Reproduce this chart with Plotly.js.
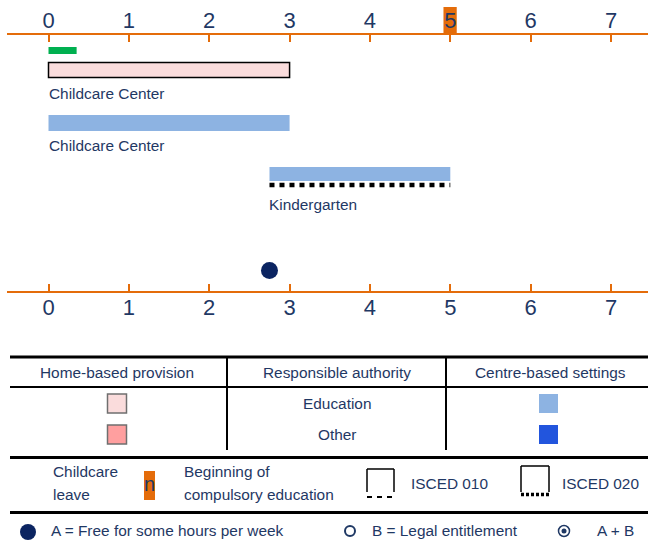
<!DOCTYPE html>
<html>
<head>
<meta charset="utf-8">
<script src="https://cdn.plot.ly/plotly-3.0.1.min.js"></script>
<style>html,body{margin:0;padding:0;background:#fff;}#chart{width:648px;height:546px;}</style>
</head>
<body>
<div id="chart"></div>
<script>
// ---- data ----
const ageTicks = [0, 1, 2, 3, 4, 5, 6, 7];
const ageTickLabels = ['0', '1', '2', '3', '4', '5', '6', '7'];
const barNames = ['Childcare leave', 'Childcare Center', 'Childcare Center', 'Kindergarten'];
const barLabels = ['', 'Childcare Center', 'Childcare Center', 'Kindergarten'];
const barStart = [0, 0, 0, 2.75];
const barEnd = [0.35, 3, 3, 5];
const iscedStart = [2.75];
const iscedEnd = [5];
const freeHoursAge = [2.75];
const compulsoryAge = 5;
const tableHeaders = ['Home-based provision', 'Responsible authority', 'Centre-based settings'];
const authorities = ['Education', 'Other'];

// ---- styles / layout helpers ----
const NAVY = '#1f3864';
const ORANGE = '#E46C0A';
const FONT = "'Liberation Sans', Arial, sans-serif";
const FS = 15.4;
const W = 648, H = 546;
const px = v => v / W;
const py = v => 1 - v / H;
const rowY = [50.5, 70, 123, 174];
const rowH = [7, 15, 16, 14];
const barFill = ['#00b050', '#fadcdc', '#8db3e2', '#8db3e2'];
const barLine = ['#00b050', '#000000', '#8db3e2', '#8db3e2'];
const barLineW = [0, 1.5, 0, 0];
const labelY = [0, 93.5, 145.5, 204.5];

const traces = [
  {
    type: 'bar', orientation: 'h',
    y: rowY, base: barStart,
    x: barEnd.map((e, i) => e - barStart[i]),
    width: rowH,
    marker: {color: barFill, line: {color: barLine, width: barLineW}},
    name: 'bars', hoverinfo: 'skip', showlegend: false
  },
  {
    type: 'scatter', mode: 'lines',
    x: [iscedStart[0], iscedEnd[0]], y: [185, 185],
    line: {color: '#000', width: 4.5, dash: '5px,5px'},
    hoverinfo: 'skip', showlegend: false
  },
  {
    type: 'scatter', mode: 'markers',
    x: freeHoursAge, y: freeHoursAge.map(() => 270.5),
    xaxis: 'x2',
    marker: {color: '#0b2461', size: 17},
    hoverinfo: 'skip', showlegend: false
  }
];

const axisStyle = {
  range: [(7 - 48.5) / 80.36, (648 - 48.5) / 80.36],
  tickvals: ageTicks, ticktext: ageTickLabels,
  showline: true, linecolor: ORANGE, linewidth: 2,
  ticks: 'inside', ticklen: 7, tickwidth: 2, tickcolor: ORANGE,
  tickfont: {family: FONT, size: 22, color: NAVY},
  ticklabelstandoff: -4,
  showgrid: false, zeroline: false, fixedrange: true
};

const shapes = [];
const annotations = [];

// compulsory-education highlight behind the top tick label
shapes.push({type: 'rect', xref: 'x', yref: 'paper', x0: compulsoryAge - 0.085, x1: compulsoryAge + 0.08,
  y0: py(33.5), y1: py(7), fillcolor: ORANGE, line: {width: 0}, layer: 'below'});

// bar labels
barLabels.forEach((t, i) => {
  if (!t) return;
  annotations.push({xref: 'x', yref: 'paper', x: barStart[i], y: py(labelY[i]), text: t,
    xanchor: 'left', yanchor: 'middle', showarrow: false, xshift: -1, borderpad: 0,
    font: {family: FONT, size: FS, color: NAVY}});
});

function line(x0, y0, x1, y1, w, dash, color) {
  shapes.push({type: 'line', xref: 'paper', yref: 'paper', x0: px(x0), y0: py(y0), x1: px(x1), y1: py(y1),
    line: {color: color || '#000', width: w, dash: dash || 'solid'}});
}
function rect(x0, y0, x1, y1, fill, lc, lw) {
  shapes.push({type: 'rect', xref: 'paper', yref: 'paper', x0: px(x0), y0: py(y0), x1: px(x1), y1: py(y1),
    fillcolor: fill, line: {color: lc || fill, width: lw || 0}});
}
function circ(cx, cy, r, fill, lc, lw) {
  shapes.push({type: 'circle', xref: 'paper', yref: 'paper', x0: px(cx - r), y0: py(cy - r), x1: px(cx + r), y1: py(cy + r),
    fillcolor: fill, line: {color: lc || fill, width: lw || 0}});
}
function txt(t, x, y, anchor, size) {
  annotations.push({xref: 'paper', yref: 'paper', x: px(x), y: py(y), text: t, xanchor: anchor || 'left',
    yanchor: 'middle', showarrow: false, borderpad: 0,
    font: {family: FONT, size: size || FS, color: NAVY}});
}

// table
line(10, 357, 648, 357, 3);
line(10, 387, 648, 387, 2);
line(227, 357, 227, 450, 2);
line(446, 357, 446, 450, 2);
line(10, 457.5, 648, 457.5, 3);
line(10, 512.5, 648, 512.5, 3);
txt(tableHeaders[0], 117, 372.5, 'center');
txt(tableHeaders[1], 337, 372.5, 'center');
txt(tableHeaders[2], 550, 372.5, 'center');
txt(authorities[0], 337, 403.5, 'center');
txt(authorities[1], 337, 434.5, 'center');
rect(107.5, 394, 126.5, 413, '#fadcdc', '#6f6f6f', 1.5);
rect(107.5, 425, 126.5, 444, '#ff9f9f', '#6f6f6f', 1.5);
rect(539, 394, 558, 413, '#8db3e2');
rect(539, 425, 558, 444, '#2255dd');

// key row
txt('Childcare', 52, 471.5);
txt('leave', 52, 494.5);
rect(144, 471, 155, 500, ORANGE);
txt('n', 149.5, 484, 'center', 20);
txt('Beginning of', 183, 471.5);
txt('compulsory education', 183, 494.5);
line(367, 469, 394, 469, 1.5);
line(367, 469, 367, 492, 1.5);
line(394, 469, 394, 492, 1.5);
line(367, 497, 394, 497, 2, '5px,5px');
txt('ISCED 010', 410, 483.5);
line(521, 466, 549, 466, 1.5);
line(521, 466, 521, 492, 1.5);
line(549, 466, 549, 492, 1.5);
line(521, 494.5, 549, 494.5, 3.5, '3px,2px');
txt('ISCED 020', 561, 483.5);

// bottom row
circ(28, 532, 8, '#0b2461');
txt('A = Free for some hours per week', 50, 530.5);
circ(350, 531, 5, 'rgba(0,0,0,0)', NAVY, 2);
txt('B = Legal entitlement', 371, 530.5);
circ(564, 531, 5.5, 'rgba(0,0,0,0)', NAVY, 1.5);
circ(564, 531, 2.5, NAVY);
txt('A + B', 596, 530.5);

const layout = {
  width: W, height: H,
  margin: {l: 0, r: 0, t: 0, b: 0, pad: 0},
  paper_bgcolor: '#ffffff', plot_bgcolor: 'rgba(0,0,0,0)',
  showlegend: false, barmode: 'overlay',
  xaxis: Object.assign({}, axisStyle, {domain: [7 / W, 1], side: 'top', anchor: 'y'}),
  xaxis2: Object.assign({}, axisStyle, {domain: [7 / W, 1], side: 'bottom', anchor: 'y', overlaying: 'x', matches: 'x'}),
  yaxis: {domain: [py(291), py(35)], range: [291, 35], visible: false, fixedrange: true},
  shapes: shapes,
  annotations: annotations,
  font: {family: FONT, color: NAVY}
};

Plotly.newPlot('chart', traces, layout, {staticPlot: true, displayModeBar: false});
</script>
</body>
</html>
